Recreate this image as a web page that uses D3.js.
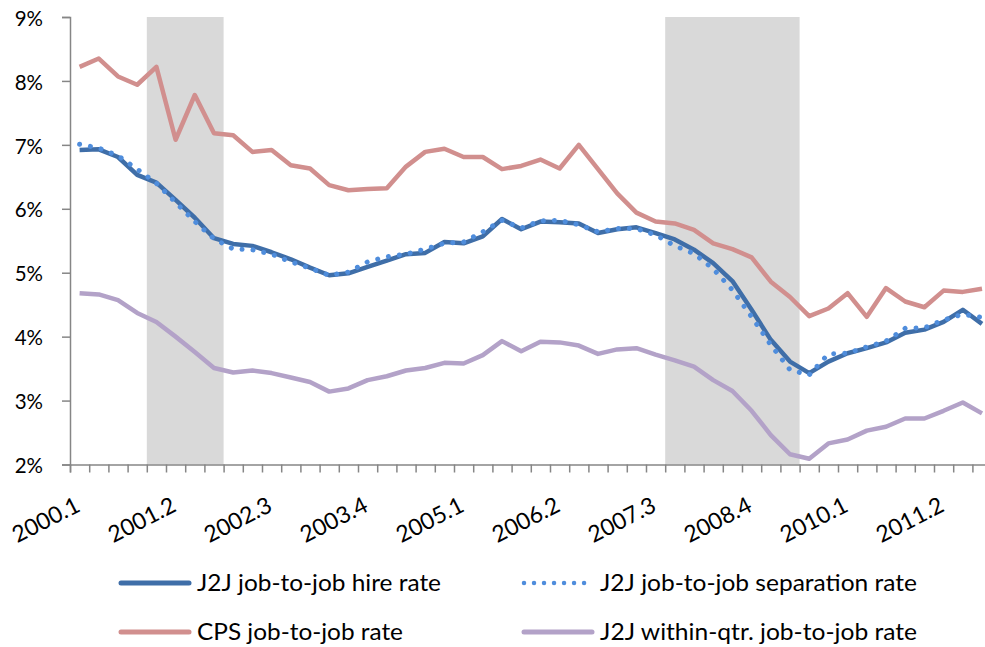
<!DOCTYPE html>
<html>
<head>
<meta charset="utf-8">
<script src="https://cdn.jsdelivr.net/npm/d3@7"></script>
<style>
  html, body { margin: 0; padding: 0; background: #fff; }
  svg { display: block; font-family: Lato, "Open Sans", sans-serif; }
</style>
</head>
<body>
<svg id="chart" width="985" height="647"></svg>
<script>
// ---- data ----
const quarters = [];
for (let yr = 2000; yr <= 2011; yr++) for (let q = 1; q <= 4; q++) quarters.push(yr + "." + q);

const hireRate = [6.92, 6.93, 6.81, 6.53, 6.41, 6.14, 5.86, 5.54, 5.45, 5.42, 5.32, 5.21,
  5.08, 4.96, 4.99, 5.09, 5.19, 5.29, 5.31, 5.48, 5.46, 5.57, 5.84, 5.68,
  5.80, 5.79, 5.77, 5.62, 5.68, 5.71, 5.62, 5.52, 5.36, 5.15, 4.87, 4.42,
  3.95, 3.61, 3.43, 3.61, 3.74, 3.82, 3.91, 4.06, 4.11, 4.23, 4.42, 4.20];
const sepRate = [7.01, 6.95, 6.83, 6.62, 6.40, 6.10, 5.80, 5.53, 5.37, 5.36, 5.29, 5.17,
  5.07, 4.96, 5.01, 5.17, 5.25, 5.29, 5.37, 5.46, 5.48, 5.64, 5.82, 5.70,
  5.81, 5.82, 5.75, 5.64, 5.69, 5.69, 5.59, 5.42, 5.30, 5.06, 4.73, 4.31,
  3.87, 3.48, 3.40, 3.73, 3.74, 3.84, 3.93, 4.13, 4.14, 4.26, 4.35, 4.30];
const cpsRate = [8.22, 8.35, 8.07, 7.94, 8.22, 7.08, 7.78, 7.18, 7.15, 6.89, 6.92, 6.68,
  6.63, 6.37, 6.29, 6.31, 6.32, 6.66, 6.89, 6.94, 6.81, 6.81, 6.62, 6.67,
  6.77, 6.63, 7.00, 6.62, 6.24, 5.94, 5.80, 5.77, 5.67, 5.46, 5.37, 5.24,
  4.86, 4.62, 4.32, 4.44, 4.68, 4.31, 4.76, 4.55, 4.46, 4.72, 4.70, 4.75];
const withinRate = [4.68, 4.66, 4.57, 4.37, 4.23, 4.00, 3.76, 3.51, 3.44, 3.47, 3.43, 3.36,
  3.29, 3.14, 3.19, 3.32, 3.38, 3.47, 3.51, 3.59, 3.58, 3.71, 3.93, 3.77,
  3.92, 3.91, 3.86, 3.73, 3.80, 3.82, 3.72, 3.63, 3.53, 3.32, 3.15, 2.84,
  2.46, 2.16, 2.09, 2.33, 2.39, 2.53, 2.59, 2.72, 2.72, 2.84, 2.97, 2.80];

const recessions = [["2001.1", "2001.4"], ["2007.4", "2009.2"]];
const tickLabels = ["2000.1", "2001.2", "2002.3", "2003.4", "2005.1", "2006.2", "2007.3", "2008.4", "2010.1", "2011.2"];
const yTicks = [2, 3, 4, 5, 6, 7, 8, 9];

const seriesNames = ["J2J job-to-job hire rate", "J2J job-to-job separation rate", "CPS job-to-job rate", "J2J within-qtr. job-to-job rate"];

// ---- layout ----
const svg = d3.select("#chart");
const plotLeft = 70, plotTop = 17, plotBottom = 464.5, step = 19.2;
const plotRight = plotLeft + step * quarters.length;

const x = d3.scaleBand().domain(quarters).range([plotLeft, plotRight]).padding(0);
const xi = d3.scaleLinear().domain([0, quarters.length]).range([plotLeft, plotRight]);
const y = d3.scaleLinear().domain([2, 9]).range([plotBottom, plotTop]);
const cx = q => x(q) + x.bandwidth() / 2;

// recession shading
svg.append("g").selectAll("rect").data(recessions).join("rect")
  .attr("x", d => x(d[0]))
  .attr("width", d => x(d[1]) + x.bandwidth() - x(d[0]))
  .attr("y", y(9)).attr("height", y(2) - y(9))
  .attr("fill", "#d9d9d9");

// axes
const axisColor = "#868686";
const gy = svg.append("g").attr("transform", `translate(${plotLeft},0)`)
  .call(d3.axisLeft(y).tickValues(yTicks).tickSize(8).tickPadding(19).tickFormat(d => d + "%"));
gy.select(".domain").attr("stroke", axisColor).attr("stroke-width", 1.5);
gy.selectAll(".tick line").attr("stroke", axisColor).attr("stroke-width", 1.5);
gy.selectAll(".tick text").attr("font-size", 20.5).attr("fill", "#000")
  .attr("dy", "0.4em")
  .attr("font-family", "Lato, sans-serif");

const gx = svg.append("g").attr("transform", `translate(0,${plotBottom})`)
  .call(d3.axisBottom(xi).tickValues(d3.range(0, quarters.length + 1)).tickSize(8).tickFormat(""));
gx.select(".domain").attr("stroke", axisColor).attr("stroke-width", 1.5);
gx.selectAll(".tick line").attr("stroke", axisColor).attr("stroke-width", 1.5);

svg.append("g").selectAll("text").data(tickLabels).join("text")
  .attr("transform", d => `translate(${cx(d) + 2},${plotBottom + 46}) rotate(-27)`)
  .attr("text-anchor", "end")
  .attr("font-size", 23)
  .attr("fill", "#000")
  .text(d => d);

// lines
const line = vals => d3.line().x((d, i) => cx(quarters[i])).y(d => y(d))(vals);
const styles = [
  { data: withinRate, color: "#b3a2c8", dash: null },
  { data: cpsRate, color: "#d18f8e", dash: null },
  { data: hireRate, color: "#3f6ea8", dash: null },
  { data: sepRate, color: "#4f8ddc", dash: "0.01 11" }
];
const gl = svg.append("g");
styles.forEach(s => {
  gl.append("path").attr("d", line(s.data))
    .attr("fill", "none").attr("stroke", s.color)
    .attr("stroke-width", s.dash ? 5 : 4.5)
    .attr("stroke-linejoin", "round")
    .attr("stroke-linecap", s.dash ? "round" : "butt")
    .attr("stroke-dasharray", s.dash);
});

// legend
const legendItems = [
  { name: seriesNames[0], color: "#3f6ea8", dash: null, lx: 121, tx: 197, ty: 583, w: 244 },
  { name: seriesNames[1], color: "#4f8ddc", dash: "0.01 10", lx: 524, tx: 600, ty: 583, w: 317 },
  { name: seriesNames[2], color: "#d18f8e", dash: null, lx: 121, tx: 197, ty: 632, w: 206 },
  { name: seriesNames[3], color: "#b3a2c8", dash: null, lx: 524, tx: 600, ty: 632, w: 317 }
];
const lg = svg.append("g");
legendItems.forEach(it => {
  lg.append("line").attr("x1", it.lx).attr("x2", it.lx + 68).attr("y1", it.ty).attr("y2", it.ty)
    .attr("stroke", it.color).attr("stroke-width", it.dash ? 4.5 : 5)
    .attr("stroke-linecap", "round").attr("stroke-dasharray", it.dash);
  lg.append("text").attr("x", it.tx).attr("y", it.ty + 8)
    .attr("font-size", 22.5).attr("fill", "#000")
    .attr("textLength", it.w).attr("lengthAdjust", "spacingAndGlyphs")
    .text(it.name);
});
</script>
</body>
</html>
